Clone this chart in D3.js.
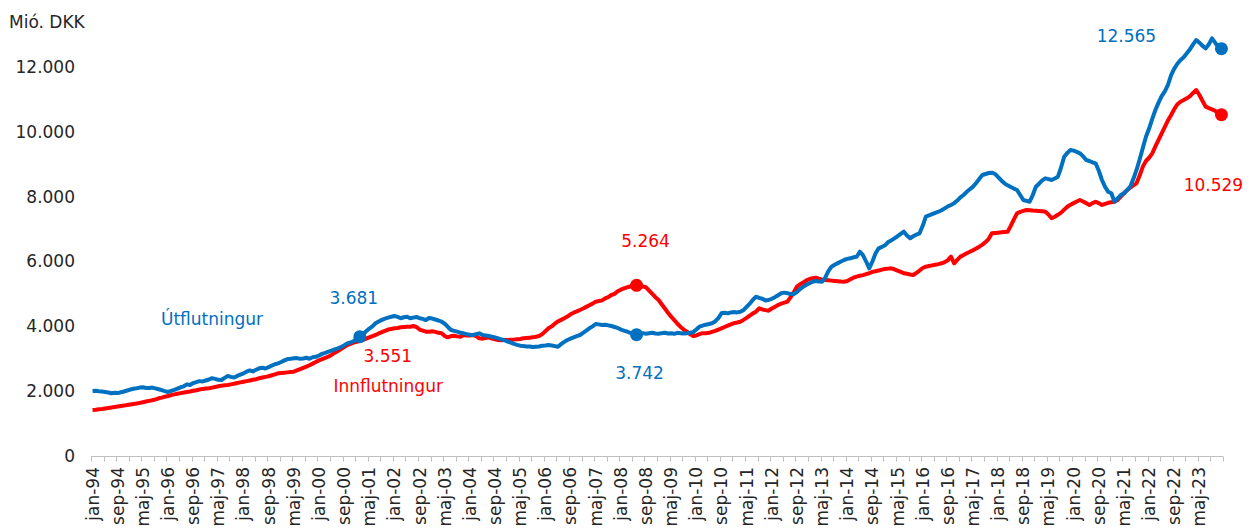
<!DOCTYPE html>
<html><head><meta charset="utf-8">
<script src="https://cdn.jsdelivr.net/npm/d3@7"></script>
<style>
body{margin:0;background:#fff}
svg{display:block}
text{font-family:"DejaVu Sans",Verdana,sans-serif}
</style>
</head><body>
<svg id="c" width="1254" height="529"></svg>
<script>
const monthNames = ["jan","feb","mar","apr","maj","jun","jul","aug","sep","okt","nov","dec"];
const years = d3.range(1994, 2024);
const categories = years.flatMap(yr => monthNames.map(m => m + "-" + String(yr).slice(2)));

// Útflutningur (blue), monthly, jan-94 .. dec-23
const exportValues = [
2005,2010,1995,1990,1975,1960,1935,1950,1940,1965,1990,2020,
2050,2075,2090,2110,2120,2100,2095,2110,2085,2060,2030,2000,
1975,2010,2040,2080,2120,2150,2210,2190,2250,2280,2310,2300,
2330,2360,2400,2380,2350,2345,2410,2468,2440,2420,2470,2510,
2550,2600,2640,2610,2660,2705,2720,2700,2740,2790,2830,2860,
2900,2950,2990,3000,3014,3020,3000,3010,3030,3000,3045,3060,
3100,3150,3180,3217,3250,3290,3320,3360,3410,3476,3500,3540,
3600,3681,3760,3850,3930,4000,4094,4150,4200,4240,4270,4297,
4320,4290,4250,4280,4297,4248,4270,4290,4250,4230,4195,4257,
4240,4210,4180,4143,4080,3980,3887,3860,3835,3800,3784,3760,
3740,3733,3760,3784,3733,3720,3700,3681,3660,3630,3600,3570,
3527,3500,3460,3430,3403,3390,3380,3375,3360,3372,3380,3400,
3410,3424,3410,3390,3372,3450,3520,3578,3620,3660,3700,3733,
3800,3870,3939,4000,4072,4060,4040,4050,4030,4010,3980,3950,
3900,3870,3835,3800,3770,3742,3760,3790,3770,3784,3800,3780,
3770,3790,3800,3780,3784,3770,3800,3790,3780,3784,3800,3820,
3900,3989,4020,4050,4070,4094,4150,4250,4402,4420,4400,4430,
4440,4430,4452,4500,4600,4700,4820,4914,4880,4850,4800,4812,
4850,4900,4960,5019,5039,5020,5000,4997,5060,5150,5223,5280,
5330,5377,5400,5380,5377,5500,5700,5840,5900,5950,6000,6046,
6080,6100,6130,6148,6302,6200,6000,5790,6000,6250,6407,6450,
6500,6600,6650,6716,6780,6850,6920,6800,6716,6780,6830,6870,
7100,7382,7420,7460,7500,7536,7580,7640,7700,7743,7800,7880,
7980,8052,8150,8230,8308,8420,8550,8669,8700,8730,8740,8700,
8600,8500,8412,8350,8300,8250,8206,8050,7897,7870,7845,8050,
8308,8400,8500,8566,8540,8514,8560,8617,8900,9234,9350,9440,
9420,9380,9337,9250,9131,9100,9060,9029,8800,8514,8300,8150,
8104,7845,7950,8050,8104,8200,8308,8550,8823,9150,9500,9850,
10100,10400,10674,10900,11100,11250,11450,11750,11950,12100,12216,12300,
12422,12550,12700,12833,12750,12650,12576,12700,12885,12750,12628,12565
];

// Innflutningur (red), monthly, jan-94 .. dec-23
const importValues = [
1419,1425,1440,1450,1465,1480,1495,1510,1525,1540,1555,1573,
1590,1605,1620,1640,1660,1680,1700,1720,1745,1780,1800,1830,
1850,1880,1900,1920,1940,1960,1975,1990,2014,2030,2050,2070,
2080,2090,2110,2130,2150,2170,2180,2190,2210,2230,2250,2270,
2290,2310,2330,2350,2370,2397,2420,2440,2460,2490,2520,2550,
2560,2570,2580,2590,2600,2640,2680,2720,2760,2800,2850,2900,
2950,2990,3030,3063,3120,3180,3240,3300,3360,3424,3460,3500,
3520,3551,3580,3620,3660,3700,3733,3780,3820,3860,3900,3920,
3939,3950,3970,3980,3990,3989,4010,3980,3900,3870,3835,3835,
3850,3830,3800,3784,3700,3661,3700,3710,3690,3681,3733,3720,
3720,3733,3700,3630,3620,3640,3661,3620,3600,3578,3570,3575,
3578,3585,3590,3600,3610,3630,3640,3650,3660,3680,3702,3760,
3850,3939,4000,4080,4150,4200,4248,4300,4370,4420,4460,4504,
4550,4600,4650,4700,4760,4780,4800,4860,4900,4967,5000,5080,
5130,5170,5204,5230,5250,5264,5250,5230,5204,5100,5000,4900,
4812,4680,4550,4420,4297,4190,4080,3980,3900,3835,3760,3702,
3720,3760,3790,3784,3800,3830,3860,3900,3939,3980,4020,4060,
4100,4120,4143,4200,4260,4330,4400,4452,4556,4520,4500,4483,
4550,4600,4658,4700,4730,4760,4900,5050,5223,5300,5350,5420,
5460,5482,5500,5470,5440,5430,5420,5410,5400,5390,5380,5377,
5400,5450,5500,5532,5560,5580,5610,5636,5680,5700,5720,5750,
5770,5780,5790,5760,5720,5680,5636,5620,5600,5584,5650,5720,
5800,5840,5860,5880,5900,5920,5944,5980,6040,6148,5944,6050,
6150,6200,6253,6300,6350,6400,6457,6520,6600,6700,6870,6880,
6890,6900,6910,6920,7100,7300,7486,7530,7560,7589,7580,7570,
7567,7560,7550,7536,7450,7332,7382,7440,7506,7600,7691,7750,
7800,7850,7897,7850,7800,7743,7800,7845,7800,7743,7780,7810,
7830,7845,7900,8000,8104,8200,8280,8350,8412,8650,8926,9100,
9200,9337,9550,9750,9954,10150,10350,10519,10700,10850,10930,10980,
11034,11100,11200,11290,11137,10950,10776,10730,10694,10650,10580,10529
];

const yTickValues = [0, 2000, 4000, 6000, 8000, 10000, 12000];
const yUnitLabel = "Mió. DKK";
const seriesNames = ["Útflutningur", "Innflutningur"];
const exportMarkers = ["feb-01", "jun-08", "dec-23"];
const importMarkers = ["jun-08", "dec-23"];

const BLUE = "#0070C0", RED = "#FF0000";
const locale = d3.formatLocale({decimal: ",", thousands: ".", grouping: [3], currency: ["", ""]});
const fmt = locale.format(",d");

const svg = d3.select("#c");
const x = d3.scaleBand().domain(categories).range([91, 1223]).padding(0);
const cx = c => x(c) + x.bandwidth() / 2;
const y = d3.scaleLinear().domain([0, 12000]).range([456, 67]);

// y labels
svg.append("text").attr("x", 9).attr("y", 28).attr("font-size", 17).attr("fill", "#262626").text(yUnitLabel);
const yAxis = d3.axisLeft(y).tickValues(yTickValues).tickSize(0).tickPadding(0).tickFormat(fmt);
const gy = svg.append("g").attr("transform", "translate(75,0)").call(yAxis);
gy.select(".domain").remove();
gy.selectAll("text").attr("font-size", 17).attr("fill", "#262626").attr("font-family", '"DejaVu Sans",Verdana,sans-serif');

// x axis
const gx = svg.append("g");
gx.append("line").attr("x1", 91).attr("x2", 1223).attr("y1", 456.5).attr("y2", 456.5)
  .attr("stroke", "#bfbfbf").attr("stroke-width", 1);
const tickCats = categories.filter((c, i) => i % 4 === 0);
gx.selectAll("line.tk").data(tickCats.concat([null])).join("line").attr("class", "tk")
  .attr("x1", c => Math.round(c ? x(c) : 1223) + 0.5).attr("x2", c => Math.round(c ? x(c) : 1223) + 0.5)
  .attr("y1", 456.5).attr("y2", 461.5).attr("stroke", "#bfbfbf");
const labelCats = categories.filter((c, i) => i % 8 === 0);
gx.selectAll("text").data(labelCats).join("text")
  .attr("transform", c => `translate(${cx(c)},467) rotate(-90)`)
  .attr("text-anchor", "end").attr("dy", "0.35em")
  .attr("font-size", 17).attr("fill", "#262626").text(c => c);

// lines
const line = d3.line().x((d, i) => cx(categories[i])).y(d => y(d)).curve(d3.curveLinear);
svg.append("path").datum(importValues).attr("d", line).attr("fill", "none")
  .attr("stroke", RED).attr("stroke-width", 4).attr("stroke-linejoin", "round");
svg.append("path").datum(exportValues).attr("d", line).attr("fill", "none")
  .attr("stroke", BLUE).attr("stroke-width", 4).attr("stroke-linejoin", "round");

// markers
const valAt = (arr, c) => arr[categories.indexOf(c)];
svg.selectAll("circle.imp").data(importMarkers).join("circle").attr("class", "imp")
  .attr("cx", cx).attr("cy", c => y(valAt(importValues, c))).attr("r", 6.5).attr("fill", RED);
svg.selectAll("circle.exp").data(exportMarkers).join("circle").attr("class", "exp")
  .attr("cx", cx).attr("cy", c => y(valAt(exportValues, c))).attr("r", 6.5).attr("fill", BLUE);

// value annotations
const notes = [
  {arr: exportValues, c: "feb-01", dx: -6, dy: -33, col: BLUE},
  {arr: importValues, c: "feb-01", dx: 28, dy: 21, col: RED},
  {arr: importValues, c: "jun-08", dx: 9, dy: -38, col: RED},
  {arr: exportValues, c: "jun-08", dx: 3, dy: 44, col: BLUE},
  {arr: exportValues, c: "dec-23", dx: -95, dy: -7, col: BLUE},
  {arr: importValues, c: "dec-23", dx: -8, dy: 76, col: RED}
];
svg.selectAll("text.note").data(notes).join("text").attr("class", "note")
  .attr("x", d => cx(d.c) + d.dx).attr("y", d => y(valAt(d.arr, d.c)) + d.dy)
  .attr("text-anchor", "middle").attr("font-size", 17).attr("fill", d => d.col)
  .text(d => fmt(valAt(d.arr, d.c)));

// series names
svg.append("text").attr("x", cx("mar-97")).attr("y", y(4040)).attr("text-anchor", "middle")
  .attr("font-size", 17).attr("fill", BLUE).text(seriesNames[0]);
svg.append("text").attr("x", cx("nov-01")).attr("y", y(1974)).attr("text-anchor", "middle")
  .attr("font-size", 17).attr("fill", RED).text(seriesNames[1]);
</script>
</body></html>
